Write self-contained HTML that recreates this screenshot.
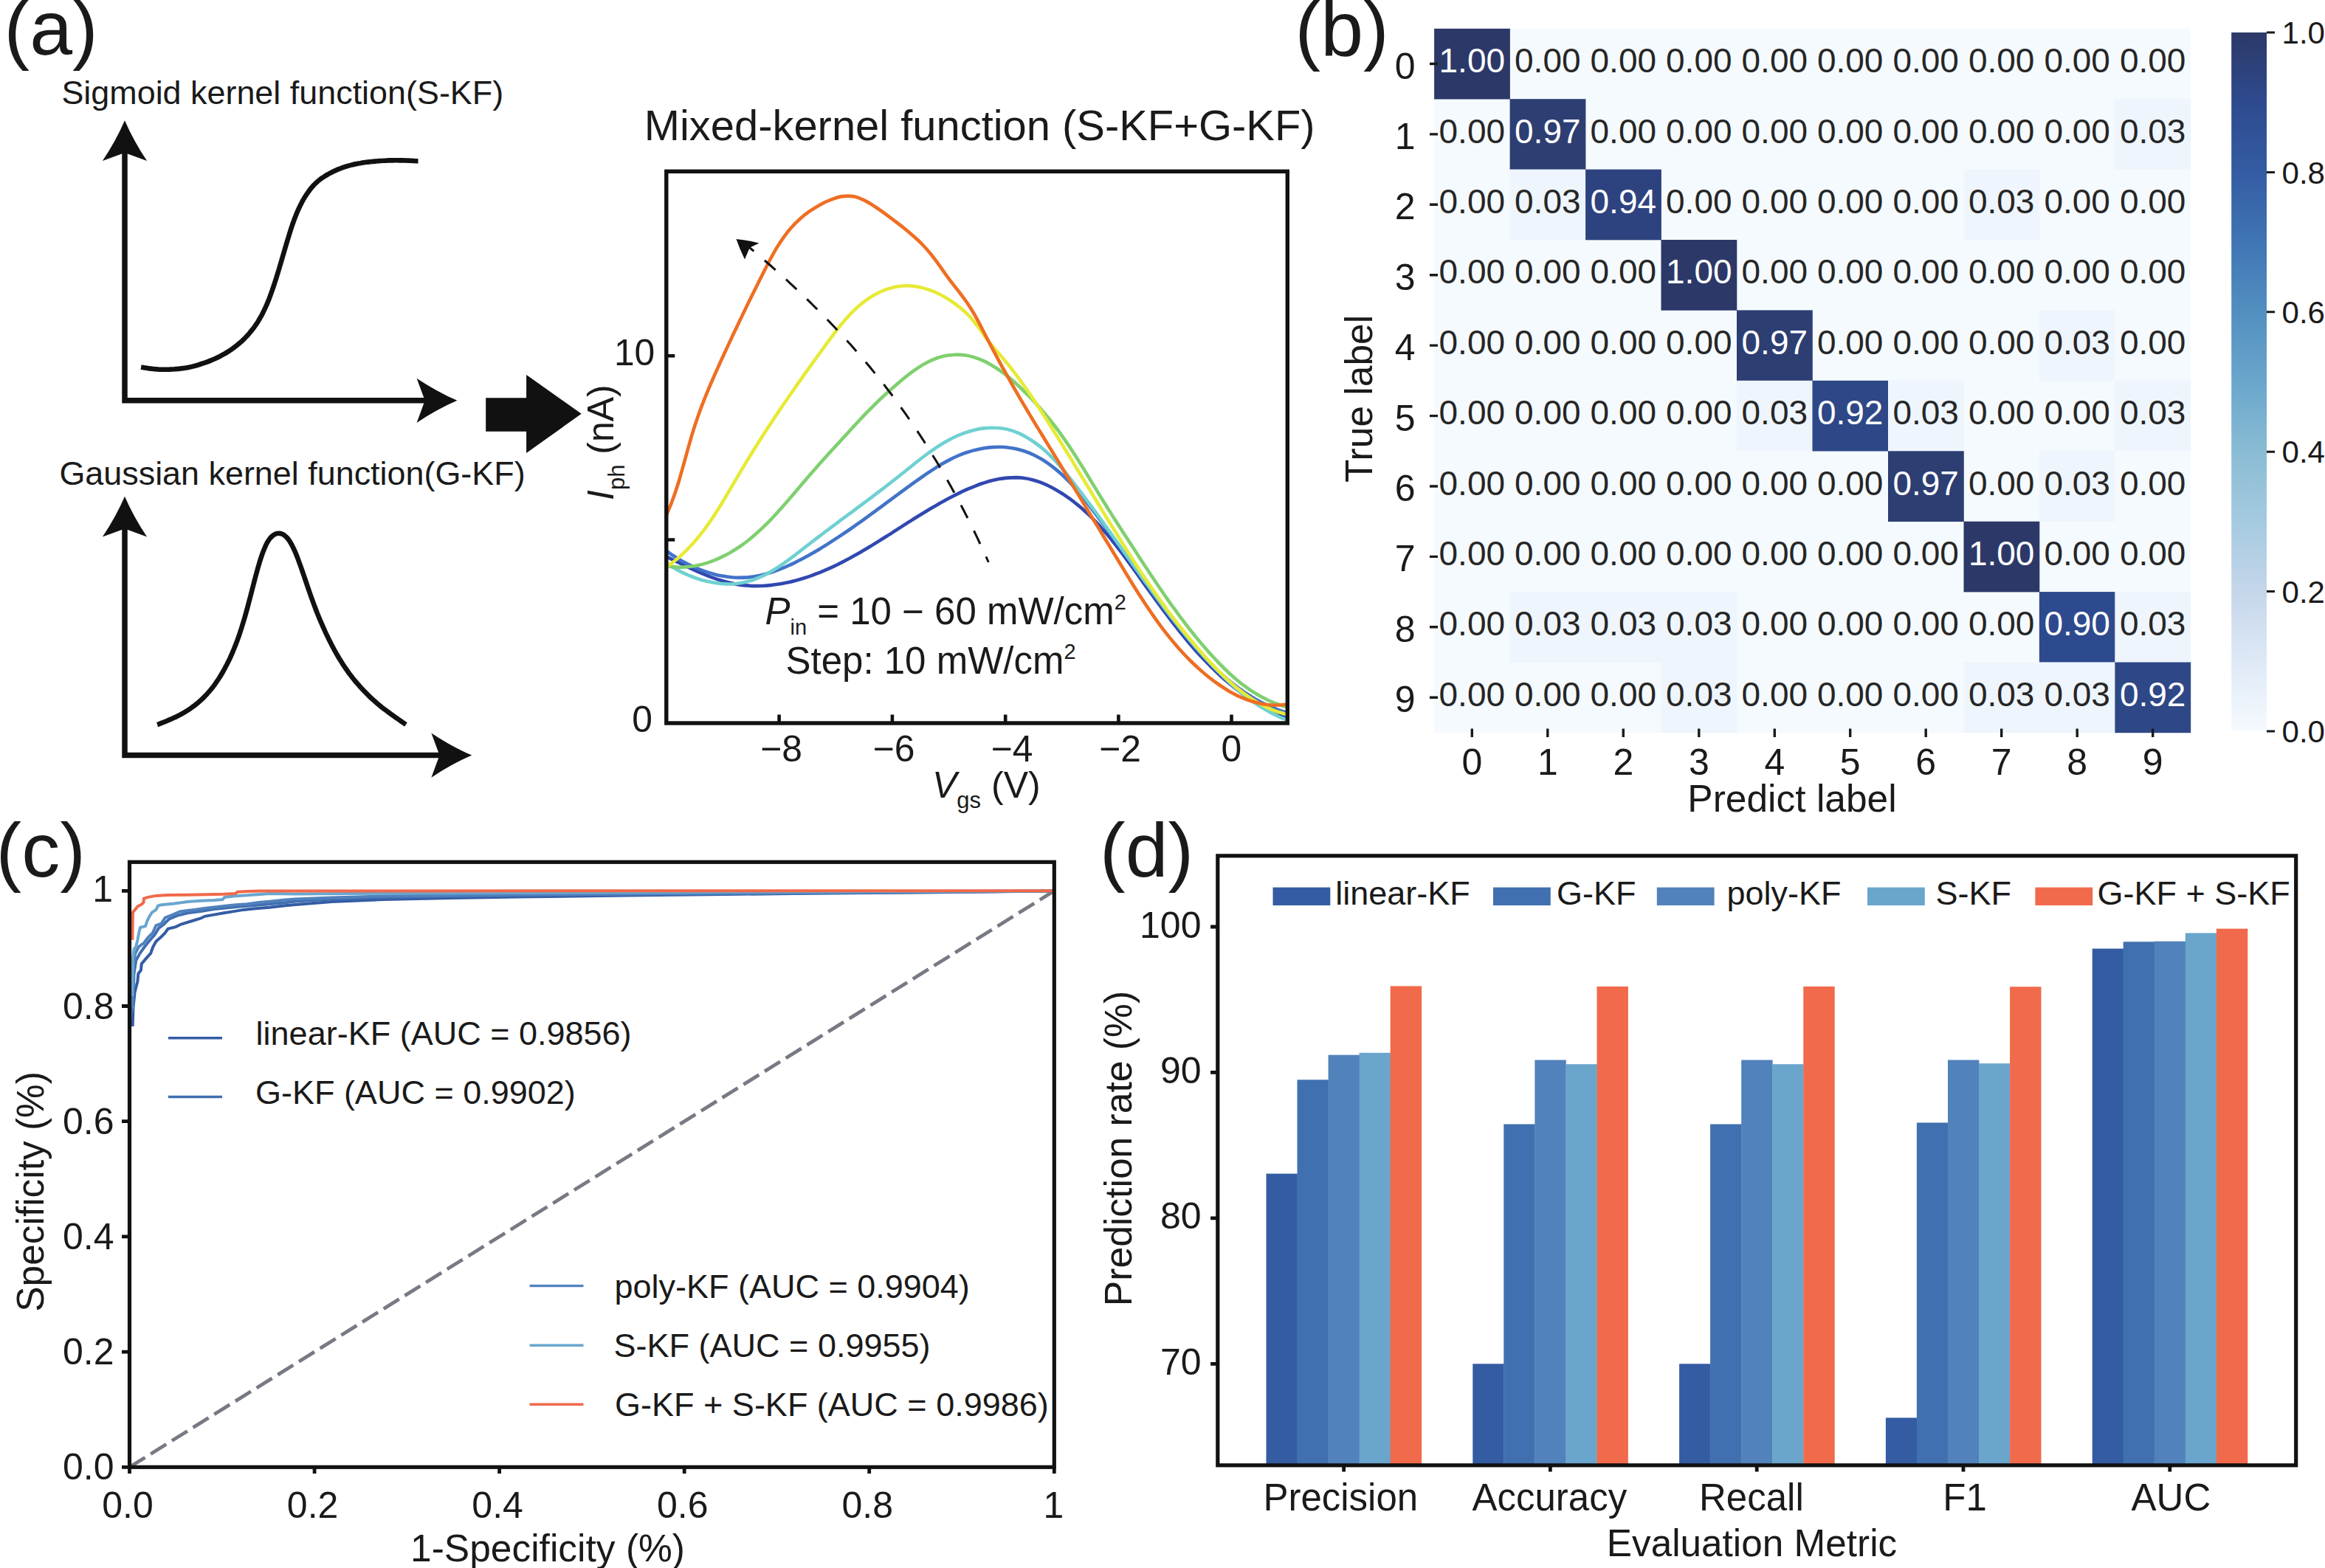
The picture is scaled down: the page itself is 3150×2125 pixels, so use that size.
<!DOCTYPE html>
<html lang="en">
<head>
<meta charset="utf-8">
<title>Figure</title>
<style>
html,body{margin:0;padding:0;background:#fff;}
body{width:3150px;height:2125px;overflow:hidden;}
svg{display:block;font-family:'Liberation Sans', sans-serif;}
text{white-space:pre;}
</style>
</head>
<body>
<svg width="3150" height="2125" viewBox="0 0 3150 2125">
<rect x="0" y="0" width="3150" height="2125" fill="#FFFFFF"/>
<g id="panel-a">
<text x="5.6" y="74" font-size="104" text-anchor="start" fill="#1a1a1a">(a)</text>
<text x="83.4" y="141" font-size="44.9" text-anchor="start" fill="#1a1a1a">Sigmoid kernel function(S-KF)</text>
<text x="80.4" y="656.5" font-size="44.9" text-anchor="start" fill="#1a1a1a">Gaussian kernel function(G-KF)</text>
<path d="M169,205 L169,542.8 L577,542.8" fill="none" stroke="#111" stroke-width="7.5" stroke-linejoin="miter"/>
<path d="M169,163.3 Q157.2,190.7 138.9,218.1 L169,207 L199.1,218.1 Q180.8,190.7 169,163.3 Z" fill="#111"/>
<path d="M619.4,542.8 Q592,530.9 564.6,512.7 L575.7,542.8 L564.6,572.9 Q592,554.6 619.4,542.8 Z" fill="#111"/>
<path d="M191.1,497.6 C191.7,497.7 193.6,498 194.9,498.2 C196.1,498.4 197.4,498.6 198.6,498.8 C199.9,499 201.2,499.2 202.4,499.4 C203.7,499.5 204.9,499.7 206.2,499.8 C207.4,500 208.7,500.1 210,500.2 C211.2,500.3 212.5,500.4 213.7,500.5 C215,500.6 216.3,500.7 217.5,500.7 C218.8,500.8 220,500.8 221.3,500.8 C222.5,500.8 223.8,500.8 225.1,500.8 C226.3,500.8 227.6,500.7 228.8,500.7 C230.1,500.6 231.3,500.6 232.6,500.5 C233.9,500.4 235.1,500.3 236.4,500.3 C237.6,500.2 238.9,500.1 240.1,500 C241.4,499.8 242.7,499.7 243.9,499.6 C245.2,499.4 246.4,499.3 247.7,499.1 C249,499 250.2,498.8 251.5,498.6 C252.7,498.4 254,498.1 255.2,497.9 C256.5,497.6 257.8,497.4 259,497.1 C260.3,496.8 261.5,496.5 262.8,496.1 C264,495.8 265.3,495.5 266.6,495.1 C267.8,494.7 269.1,494.3 270.3,494 C271.6,493.6 272.8,493.2 274.1,492.7 C275.4,492.3 276.6,491.9 277.9,491.5 C279.1,491 280.4,490.6 281.6,490.1 C282.9,489.6 284.2,489.1 285.4,488.6 C286.7,488.1 287.9,487.6 289.2,487 C290.5,486.5 291.7,485.9 293,485.3 C294.2,484.7 295.5,484.1 296.7,483.5 C298,482.8 299.3,482.2 300.5,481.5 C301.8,480.8 303,480.1 304.3,479.4 C305.5,478.7 306.8,477.9 308.1,477.1 C309.3,476.4 310.6,475.5 311.8,474.7 C313.1,473.9 314.3,473 315.6,472.1 C316.9,471.2 318.1,470.2 319.4,469.2 C320.6,468.3 321.9,467.2 323.2,466.2 C324.4,465.1 325.7,464 326.9,462.9 C328.2,461.8 329.4,460.6 330.7,459.3 C332,458.1 333.2,456.8 334.5,455.5 C335.7,454.1 337,452.7 338.2,451.2 C339.5,449.7 340.8,448.2 342,446.6 C343.3,444.9 344.5,443.2 345.8,441.4 C347,439.6 348.3,437.7 349.6,435.7 C350.8,433.7 352.1,431.6 353.3,429.3 C354.6,427 355.8,424.6 357.1,422.1 C358.4,419.5 359.6,416.8 360.9,413.9 C362.1,411 363.4,407.9 364.7,404.7 C365.9,401.4 367.2,398 368.4,394.5 C369.7,390.9 370.9,387.2 372.2,383.3 C373.5,379.5 374.7,375.4 376,371.3 C377.2,367.3 378.5,363 379.7,358.8 C381,354.6 382.3,350.2 383.5,345.9 C384.8,341.6 386,337.2 387.3,333 C388.5,328.7 389.8,324.4 391.1,320.4 C392.3,316.3 393.6,312.3 394.8,308.5 C396.1,304.7 397.3,301.1 398.6,297.7 C399.9,294.3 401.1,291.1 402.4,288.1 C403.6,285.1 404.9,282.3 406.2,279.7 C407.4,277.1 408.7,274.7 409.9,272.4 C411.2,270.1 412.4,268 413.7,266 C415,264 416.2,262.2 417.5,260.4 C418.7,258.6 420,256.9 421.2,255.4 C422.5,253.8 423.8,252.4 425,251 C426.3,249.7 427.5,248.4 428.8,247.3 C430,246.1 431.3,245 432.6,244 C433.8,243 435.1,242.1 436.3,241.2 C437.6,240.3 438.9,239.5 440.1,238.7 C441.4,237.9 442.6,237.2 443.9,236.5 C445.1,235.8 446.4,235.1 447.7,234.4 C448.9,233.8 450.2,233.1 451.4,232.5 C452.7,231.9 453.9,231.3 455.2,230.8 C456.5,230.2 457.7,229.7 459,229.2 C460.2,228.6 461.5,228.2 462.7,227.7 C464,227.2 465.3,226.8 466.5,226.3 C467.8,225.9 469,225.5 470.3,225.2 C471.5,224.8 472.8,224.4 474.1,224.1 C475.3,223.8 476.6,223.5 477.8,223.2 C479.1,222.9 480.4,222.6 481.6,222.3 C482.9,222.1 484.1,221.8 485.4,221.6 C486.6,221.3 487.9,221.1 489.2,220.9 C490.4,220.7 491.7,220.5 492.9,220.3 C494.2,220.1 495.4,220 496.7,219.8 C498,219.6 499.2,219.5 500.5,219.4 C501.7,219.2 503,219.1 504.2,219 C505.5,218.8 506.8,218.7 508,218.6 C509.3,218.5 510.5,218.4 511.8,218.3 C513.1,218.2 514.3,218.1 515.6,218 C516.8,217.9 518.1,217.8 519.3,217.8 C520.6,217.7 521.9,217.6 523.1,217.6 C524.4,217.5 525.6,217.5 526.9,217.4 C528.1,217.4 529.4,217.4 530.7,217.4 C531.9,217.4 533.2,217.3 534.4,217.3 C535.7,217.3 536.9,217.3 538.2,217.3 C539.5,217.4 540.7,217.4 542,217.4 C543.2,217.4 544.5,217.4 545.7,217.4 C547,217.5 548.3,217.5 549.5,217.5 C550.8,217.6 552,217.6 553.3,217.6 C554.6,217.7 555.8,217.7 557.1,217.8 C558.3,217.9 559.6,217.9 560.8,218 C562.1,218 563.7,218.1 564.6,218.2 C565.6,218.2 566.2,218.3 566.5,218.3" fill="none" stroke="#111" stroke-width="6.6" stroke-linecap="butt"/>
<path d="M169,714 L169,1023.6 L597,1023.6" fill="none" stroke="#111" stroke-width="7.5" stroke-linejoin="miter"/>
<path d="M169,672.8 Q157.2,700.2 138.9,727.6 L169,716.5 L199.1,727.6 Q180.8,700.2 169,672.8 Z" fill="#111"/>
<path d="M639.2,1023.6 Q611.8,1011.8 584.4,993.5 L595.5,1023.6 L584.4,1053.7 Q611.8,1035.5 639.2,1023.6 Z" fill="#111"/>
<path d="M213.1,982 C213.7,981.8 215.4,981.2 216.5,980.8 C217.6,980.3 218.7,979.9 219.9,979.5 C221,979.1 222.1,978.6 223.3,978.2 C224.4,977.7 225.5,977.3 226.6,976.8 C227.8,976.3 228.9,975.8 230,975.3 C231.2,974.9 232.3,974.3 233.4,973.8 C234.5,973.3 235.7,972.8 236.8,972.3 C237.9,971.7 239.1,971.2 240.2,970.6 C241.3,970 242.4,969.5 243.6,968.9 C244.7,968.3 245.8,967.7 246.9,967 C248.1,966.4 249.2,965.7 250.3,965.1 C251.5,964.4 252.6,963.7 253.7,963 C254.8,962.3 256,961.5 257.1,960.8 C258.2,960 259.4,959.2 260.5,958.4 C261.6,957.6 262.7,956.7 263.9,955.8 C265,955 266.1,954 267.3,953.1 C268.4,952.2 269.5,951.2 270.6,950.2 C271.8,949.2 272.9,948.2 274,947.1 C275.2,946 276.3,944.9 277.4,943.8 C278.5,942.6 279.7,941.4 280.8,940.2 C281.9,938.9 283.1,937.7 284.2,936.3 C285.3,935 286.4,933.6 287.6,932.2 C288.7,930.7 289.8,929.2 291,927.7 C292.1,926.1 293.2,924.5 294.3,922.8 C295.5,921.1 296.6,919.4 297.7,917.6 C298.9,915.8 300,913.9 301.1,912 C302.2,910 303.4,908 304.5,906 C305.6,903.9 306.7,901.7 307.9,899.5 C309,897.3 310.1,895 311.3,892.6 C312.4,890.2 313.5,887.7 314.6,885.1 C315.8,882.4 316.9,879.7 318,876.9 C319.2,874.1 320.3,871.1 321.4,868.1 C322.5,865 323.7,861.8 324.8,858.4 C325.9,855.1 327.1,851.6 328.2,847.9 C329.3,844.3 330.4,840.5 331.6,836.6 C332.7,832.7 333.8,828.7 335,824.5 C336.1,820.4 337.2,816.1 338.3,811.8 C339.5,807.5 340.6,803.1 341.7,798.7 C342.9,794.3 344,789.9 345.1,785.6 C346.2,781.3 347.4,777.1 348.5,773 C349.6,769 350.8,765 351.9,761.3 C353,757.6 354.1,754.1 355.3,751 C356.4,747.8 357.5,744.9 358.7,742.3 C359.8,739.7 360.9,737.4 362,735.3 C363.2,733.3 364.3,731.6 365.4,730.1 C366.5,728.6 367.7,727.5 368.8,726.5 C369.9,725.5 371.1,724.7 372.2,724.2 C373.3,723.6 374.4,723.2 375.6,723 C376.7,722.8 377.8,722.7 379,722.9 C380.1,723 381.2,723.3 382.3,723.8 C383.5,724.3 384.6,724.9 385.7,725.8 C386.9,726.7 388,727.7 389.1,729 C390.2,730.3 391.4,731.8 392.5,733.5 C393.6,735.3 394.8,737.2 395.9,739.4 C397,741.6 398.1,744 399.3,746.6 C400.4,749.1 401.5,751.9 402.7,754.8 C403.8,757.7 404.9,760.7 406,763.9 C407.2,767 408.3,770.2 409.4,773.5 C410.6,776.7 411.7,780.1 412.8,783.4 C413.9,786.7 415.1,790.1 416.2,793.4 C417.3,796.7 418.5,800 419.6,803.3 C420.7,806.5 421.8,809.7 423,812.8 C424.1,816 425.2,819 426.4,822 C427.5,825 428.6,827.9 429.7,830.7 C430.9,833.5 432,836.3 433.1,839 C434.2,841.7 435.4,844.3 436.5,846.9 C437.6,849.5 438.8,852 439.9,854.5 C441,857 442.1,859.4 443.3,861.8 C444.4,864.1 445.5,866.5 446.7,868.7 C447.8,871 448.9,873.2 450,875.3 C451.2,877.5 452.3,879.6 453.4,881.6 C454.6,883.6 455.7,885.6 456.8,887.6 C457.9,889.5 459.1,891.4 460.2,893.3 C461.3,895.1 462.5,896.9 463.6,898.7 C464.7,900.5 465.8,902.2 467,903.9 C468.1,905.6 469.2,907.2 470.4,908.8 C471.5,910.4 472.6,912 473.7,913.5 C474.9,915 476,916.5 477.1,917.9 C478.3,919.4 479.4,920.8 480.5,922.1 C481.6,923.5 482.8,924.8 483.9,926.1 C485,927.4 486.2,928.7 487.3,930 C488.4,931.2 489.5,932.4 490.7,933.7 C491.8,934.9 492.9,936.1 494,937.2 C495.2,938.4 496.3,939.6 497.4,940.7 C498.6,941.9 499.7,943 500.8,944.1 C501.9,945.2 503.1,946.2 504.2,947.3 C505.3,948.3 506.5,949.3 507.6,950.3 C508.7,951.3 509.8,952.3 511,953.3 C512.1,954.2 513.2,955.2 514.4,956.1 C515.5,957 516.6,957.9 517.7,958.8 C518.9,959.7 520,960.5 521.1,961.4 C522.3,962.3 523.4,963.1 524.5,963.9 C525.6,964.8 526.8,965.6 527.9,966.4 C529,967.3 530.2,968.1 531.3,968.9 C532.4,969.7 533.5,970.5 534.7,971.3 C535.8,972.1 536.9,972.9 538.1,973.7 C539.2,974.5 540.3,975.3 541.4,976.1 C542.6,976.9 543.7,977.7 544.8,978.5 C546,979.2 547.4,980.2 548.2,980.8 C549.1,981.4 549.6,981.8 549.9,982" fill="none" stroke="#111" stroke-width="6.6"/>
<path d="M658.2,539.2 L713.1,539.2 L713.1,507.9 L787.7,560.7 L713.1,614.1 L713.1,584.8 L658.2,584.8 Z" fill="#111"/>
</g>
<g id="panel-a2">
<text x="1327.2" y="190" font-size="57.9" text-anchor="middle" fill="#1a1a1a">Mixed-kernel function (S-KF+G-KF)</text>
<clipPath id="clipA"><rect x="902.8" y="232.3" width="841.5" height="747.7"/></clipPath>
<g clip-path="url(#clipA)" fill="none" stroke-width="4.6" stroke-linejoin="round">
<path d="M902.8,754.3 C904.5,755.1 909.5,757.6 912.8,759.2 C916.2,760.9 919.6,762.6 923.1,764.2 C926.5,765.9 929.9,767.6 933.4,769.2 C936.9,770.9 940.4,772.5 944,774.1 C947.5,775.6 951.1,777.2 954.7,778.6 C958.2,780.1 961.8,781.5 965.5,782.8 C969.1,784.1 972.8,785.4 976.4,786.5 C980.1,787.6 983.8,788.7 987.5,789.6 C991.2,790.5 995,791.3 998.7,791.9 C1002.4,792.6 1006.2,793.1 1010,793.4 C1013.8,793.8 1017.6,794 1021.4,794.1 C1025.2,794.2 1029,794.1 1032.8,794 C1036.6,793.8 1040.4,793.5 1044.2,793.1 C1048,792.7 1051.8,792.2 1055.6,791.6 C1059.4,791 1063.1,790.2 1066.9,789.4 C1070.6,788.6 1074.4,787.7 1078.1,786.7 C1081.8,785.8 1085.5,784.7 1089.1,783.5 C1092.8,782.4 1096.4,781.2 1100,779.9 C1103.6,778.6 1107.1,777.2 1110.7,775.8 C1114.2,774.4 1117.7,772.9 1121.1,771.4 C1124.6,769.9 1128,768.3 1131.5,766.7 C1134.9,765 1138.3,763.3 1141.6,761.6 C1145,759.9 1148.4,758.1 1151.7,756.3 C1155,754.5 1158.3,752.7 1161.6,750.8 C1164.9,748.9 1168.2,747 1171.5,745 C1174.8,743.1 1178,741.1 1181.3,739.1 C1184.5,737.2 1187.8,735.1 1191,733.1 C1194.3,731.1 1197.5,729 1200.7,727 C1204,724.9 1207.2,722.9 1210.4,720.8 C1213.6,718.8 1216.9,716.7 1220.1,714.6 C1223.3,712.6 1226.6,710.5 1229.8,708.4 C1233,706.4 1236.3,704.3 1239.5,702.3 C1242.8,700.2 1246.1,698.2 1249.3,696.2 C1252.6,694.2 1255.9,692.2 1259.2,690.2 C1262.5,688.3 1265.8,686.3 1269.2,684.4 C1272.5,682.5 1275.9,680.6 1279.3,678.8 C1282.6,676.9 1286,675.1 1289.5,673.3 C1292.9,671.5 1296.3,669.8 1299.8,668.1 C1303.3,666.4 1306.8,664.8 1310.3,663.2 C1313.8,661.7 1317.4,660.2 1321,658.8 C1324.5,657.4 1328.2,656 1331.8,654.8 C1335.4,653.7 1339.1,652.5 1342.7,651.6 C1346.4,650.6 1350.1,649.8 1353.8,649.1 C1357.5,648.5 1361.3,647.9 1365,647.6 C1368.8,647.3 1372.6,647.1 1376.4,647.1 C1380.1,647.2 1383.9,647.4 1387.6,648 C1391.3,648.5 1395.1,649.3 1398.7,650.2 C1402.4,651.2 1406,652.4 1409.6,653.7 C1413.2,655.1 1416.7,656.6 1420.2,658.3 C1423.7,660 1427.1,661.8 1430.5,663.7 C1433.8,665.6 1437.1,667.7 1440.3,669.7 C1443.5,671.8 1446.6,674 1449.7,676.2 C1452.8,678.5 1455.8,680.8 1458.7,683.2 C1461.7,685.5 1464.5,688 1467.4,690.5 C1470.2,693 1473,695.6 1475.7,698.2 C1478.4,700.8 1481.1,703.5 1483.7,706.2 C1486.3,708.9 1488.9,711.7 1491.4,714.5 C1493.9,717.3 1496.4,720.1 1498.9,723 C1501.4,725.9 1503.8,728.9 1506.2,731.8 C1508.6,734.8 1510.9,737.8 1513.3,740.8 C1515.6,743.8 1518,746.9 1520.3,749.9 C1522.6,753 1524.9,756.1 1527.1,759.2 C1529.4,762.3 1531.7,765.4 1533.9,768.5 C1536.2,771.6 1538.4,774.8 1540.7,777.9 C1542.9,781 1545.2,784.2 1547.4,787.3 C1549.7,790.5 1551.9,793.6 1554.2,796.8 C1556.5,799.9 1558.7,803 1561,806.2 C1563.2,809.3 1565.5,812.4 1567.8,815.6 C1570.1,818.7 1572.3,821.8 1574.6,824.9 C1576.9,828 1579.2,831.1 1581.6,834.2 C1583.9,837.2 1586.2,840.3 1588.5,843.4 C1590.9,846.4 1593.3,849.4 1595.6,852.4 C1598,855.5 1600.4,858.4 1602.8,861.4 C1605.3,864.4 1607.7,867.3 1610.1,870.2 C1612.6,873.1 1615.1,876 1617.6,878.9 C1620.1,881.8 1622.6,884.6 1625.2,887.4 C1627.8,890.2 1630.3,893 1633,895.7 C1635.6,898.4 1638.2,901.1 1640.9,903.8 C1643.6,906.4 1646.3,909.1 1649.1,911.7 C1651.8,914.2 1654.6,916.8 1657.4,919.3 C1660.2,921.8 1663.1,924.2 1666,926.6 C1668.9,929 1671.8,931.4 1674.8,933.7 C1677.8,936 1680.8,938.2 1683.8,940.4 C1686.9,942.6 1690,944.8 1693.2,946.9 C1696.3,949 1699.5,951 1702.8,953 C1706,955 1709.3,956.9 1712.7,958.8 C1716,960.6 1719.4,962.4 1722.9,964.1 C1726.3,965.9 1729.9,967.5 1733.4,969.1 C1737,970.7 1742.5,972.9 1744.3,973.7" stroke="#3148B0"/>
<path d="M902.8,746.7 C904.4,747.8 909.1,751.1 912.4,753.2 C915.7,755.3 919.1,757.4 922.5,759.4 C926,761.3 929.5,763.2 933.1,765 C936.7,766.8 940.4,768.5 944.1,770 C947.8,771.6 951.6,773 955.4,774.4 C959.2,775.7 963,776.9 966.9,777.9 C970.7,778.9 974.6,779.9 978.5,780.6 C982.4,781.3 986.3,781.9 990.2,782.3 C994.1,782.7 998,782.9 1001.9,782.9 C1005.8,782.9 1009.6,782.7 1013.5,782.4 C1017.3,782 1021.1,781.5 1024.9,780.8 C1028.7,780.1 1032.5,779.2 1036.3,778.2 C1040,777.2 1043.7,776.1 1047.5,774.8 C1051.2,773.6 1054.9,772.2 1058.5,770.7 C1062.2,769.3 1065.8,767.7 1069.4,766 C1073.1,764.4 1076.6,762.6 1080.2,760.8 C1083.8,759 1087.3,757.2 1090.8,755.2 C1094.3,753.3 1097.8,751.4 1101.2,749.4 C1104.7,747.4 1108.1,745.4 1111.5,743.4 C1114.9,741.3 1118.3,739.2 1121.6,737.1 C1125,735 1128.3,732.9 1131.6,730.7 C1134.9,728.5 1138.2,726.4 1141.5,724.2 C1144.8,721.9 1148,719.7 1151.3,717.5 C1154.5,715.2 1157.7,713 1160.9,710.7 C1164.2,708.4 1167.4,706.1 1170.6,703.8 C1173.8,701.5 1176.9,699.2 1180.1,696.9 C1183.3,694.6 1186.5,692.2 1189.6,689.9 C1192.8,687.6 1196,685.2 1199.1,682.9 C1202.3,680.6 1205.4,678.2 1208.6,675.9 C1211.8,673.5 1214.9,671.2 1218.1,668.9 C1221.3,666.6 1224.4,664.2 1227.6,661.9 C1230.8,659.6 1234,657.3 1237.2,654.9 C1240.5,652.6 1243.7,650.3 1247,648 C1250.2,645.7 1253.5,643.4 1256.8,641.2 C1260.1,639 1263.4,636.7 1266.8,634.6 C1270.2,632.4 1273.6,630.3 1277,628.3 C1280.5,626.3 1284,624.4 1287.5,622.6 C1291,620.8 1294.6,619.1 1298.3,617.5 C1301.9,616 1305.7,614.5 1309.4,613.3 C1313.2,612 1317,610.9 1320.8,609.9 C1324.6,609 1328.5,608.2 1332.3,607.5 C1336.2,606.9 1340.1,606.4 1344,606.1 C1347.9,605.9 1351.8,605.7 1355.6,605.8 C1359.5,605.9 1363.4,606.2 1367.2,606.7 C1371,607.1 1374.8,607.8 1378.5,608.7 C1382.3,609.6 1386,610.7 1389.6,612 C1393.3,613.3 1396.9,614.8 1400.4,616.5 C1403.9,618.2 1407.4,620.1 1410.8,622.1 C1414.2,624.1 1417.5,626.3 1420.8,628.6 C1424,630.9 1427.2,633.4 1430.3,635.9 C1433.4,638.4 1436.4,641.1 1439.4,643.8 C1442.3,646.5 1445.1,649.3 1447.9,652.2 C1450.7,655 1453.4,658 1456.1,661 C1458.7,663.9 1461.3,667 1463.8,670 C1466.4,673.1 1468.9,676.2 1471.3,679.3 C1473.8,682.5 1476.2,685.6 1478.6,688.8 C1481,692 1483.4,695.2 1485.8,698.3 C1488.2,701.5 1490.5,704.7 1492.9,707.9 C1495.2,711.1 1497.6,714.2 1499.9,717.4 C1502.3,720.6 1504.6,723.7 1506.9,726.9 C1509.3,730 1511.6,733.2 1513.9,736.4 C1516.2,739.5 1518.5,742.7 1520.9,745.9 C1523.2,749 1525.5,752.2 1527.8,755.4 C1530.1,758.5 1532.4,761.7 1534.7,764.9 C1537,768.1 1539.3,771.3 1541.6,774.5 C1543.9,777.7 1546.1,780.9 1548.4,784.1 C1550.7,787.3 1553,790.5 1555.3,793.7 C1557.6,796.9 1559.9,800.1 1562.2,803.3 C1564.5,806.5 1566.8,809.8 1569.1,813 C1571.5,816.2 1573.8,819.4 1576.1,822.5 C1578.5,825.7 1580.8,828.9 1583.2,832.1 C1585.6,835.2 1588,838.4 1590.4,841.5 C1592.8,844.6 1595.2,847.8 1597.7,850.9 C1600.1,854 1602.6,857.1 1605.1,860.1 C1607.6,863.2 1610.1,866.2 1612.7,869.2 C1615.2,872.2 1617.8,875.2 1620.4,878.2 C1623,881.2 1625.7,884.1 1628.4,887 C1631.1,889.9 1633.8,892.8 1636.5,895.6 C1639.3,898.4 1642.1,901.2 1644.9,904 C1647.7,906.7 1650.6,909.5 1653.5,912.1 C1656.5,914.8 1659.4,917.4 1662.4,920 C1665.4,922.6 1668.5,925.1 1671.6,927.5 C1674.7,930 1677.8,932.3 1681,934.6 C1684.2,936.9 1687.5,939.2 1690.8,941.3 C1694.1,943.4 1697.4,945.5 1700.8,947.5 C1704.2,949.4 1707.7,951.3 1711.2,953.1 C1714.7,954.8 1718.2,956.5 1721.9,958.1 C1725.5,959.6 1729.2,961.1 1732.9,962.4 C1736.6,963.7 1742.4,965.4 1744.3,966" stroke="#4273C9"/>
<path d="M902.8,763.2 C904.5,764.3 909.3,767.6 912.8,769.6 C916.2,771.6 919.8,773.6 923.5,775.4 C927.2,777.2 931,778.9 934.8,780.5 C938.7,782 942.7,783.5 946.6,784.7 C950.6,786 954.7,787.1 958.8,788.1 C962.8,789 966.9,789.8 971,790.3 C975.1,790.9 979.2,791.3 983.3,791.4 C987.4,791.5 991.4,791.5 995.4,791.2 C999.4,790.9 1003.3,790.3 1007.2,789.5 C1011.1,788.8 1014.9,787.7 1018.6,786.5 C1022.4,785.3 1026,783.8 1029.7,782.2 C1033.3,780.6 1036.9,778.8 1040.4,776.9 C1044,775 1047.5,772.9 1050.9,770.8 C1054.4,768.6 1057.8,766.3 1061.2,763.9 C1064.6,761.6 1068,759.1 1071.3,756.6 C1074.7,754.1 1078,751.6 1081.3,749 C1084.6,746.5 1087.9,743.9 1091.2,741.3 C1094.5,738.8 1097.8,736.2 1101,733.7 C1104.3,731.2 1107.6,728.7 1110.9,726.2 C1114.1,723.7 1117.4,721.3 1120.6,718.8 C1123.9,716.4 1127.1,713.9 1130.4,711.5 C1133.6,709.1 1136.9,706.6 1140.1,704.2 C1143.4,701.8 1146.6,699.4 1149.8,697 C1153.1,694.6 1156.3,692.2 1159.5,689.8 C1162.8,687.4 1166,685 1169.2,682.6 C1172.4,680.2 1175.7,677.8 1178.9,675.4 C1182.1,672.9 1185.3,670.5 1188.5,668.1 C1191.8,665.6 1195,663.2 1198.2,660.7 C1201.4,658.2 1204.6,655.8 1207.8,653.2 C1211.1,650.7 1214.3,648.2 1217.5,645.7 C1220.7,643.1 1223.9,640.5 1227.1,638 C1230.4,635.4 1233.6,632.8 1236.8,630.2 C1240.1,627.6 1243.3,625 1246.6,622.5 C1249.9,619.9 1253.2,617.4 1256.5,615 C1259.8,612.5 1263.2,610.1 1266.6,607.8 C1270,605.5 1273.4,603.3 1276.9,601.2 C1280.4,599.1 1283.9,597.1 1287.5,595.2 C1291.1,593.3 1294.7,591.6 1298.4,590 C1302.1,588.4 1305.9,586.9 1309.7,585.7 C1313.5,584.4 1317.4,583.3 1321.4,582.4 C1325.3,581.6 1329.4,580.9 1333.4,580.4 C1337.4,580 1341.5,579.7 1345.5,579.8 C1349.5,579.8 1353.6,580 1357.6,580.6 C1361.5,581.2 1365.5,582 1369.4,583.1 C1373.3,584.3 1377.1,585.8 1380.9,587.4 C1384.6,589.1 1388.3,591.1 1391.9,593.2 C1395.4,595.3 1398.9,597.6 1402.3,600 C1405.7,602.4 1408.9,604.9 1412.1,607.6 C1415.2,610.2 1418.3,613 1421.2,615.8 C1424.1,618.6 1426.9,621.5 1429.7,624.5 C1432.4,627.5 1435.1,630.5 1437.7,633.6 C1440.4,636.7 1442.9,639.8 1445.5,643 C1448,646.2 1450.5,649.3 1453,652.5 C1455.5,655.7 1458,658.9 1460.5,662.2 C1463,665.4 1465.4,668.6 1467.9,671.9 C1470.3,675.1 1472.8,678.4 1475.2,681.7 C1477.6,684.9 1480.1,688.2 1482.5,691.5 C1484.9,694.8 1487.3,698.1 1489.7,701.4 C1492.1,704.7 1494.5,708 1496.8,711.4 C1499.2,714.7 1501.6,718 1504,721.3 C1506.3,724.6 1508.7,728 1511,731.3 C1513.4,734.6 1515.8,738 1518.1,741.3 C1520.5,744.7 1522.8,748 1525.2,751.3 C1527.5,754.7 1529.9,758 1532.2,761.3 C1534.6,764.7 1536.9,768 1539.3,771.3 C1541.6,774.7 1544,778 1546.4,781.3 C1548.7,784.6 1551.1,787.9 1553.5,791.2 C1555.9,794.5 1558.3,797.9 1560.7,801.1 C1563.1,804.4 1565.5,807.7 1567.9,811 C1570.3,814.3 1572.7,817.6 1575.2,820.8 C1577.6,824.1 1580.1,827.3 1582.5,830.5 C1585,833.8 1587.5,837 1590,840.2 C1592.5,843.4 1595,846.6 1597.6,849.8 C1600.1,853 1602.7,856.2 1605.3,859.3 C1607.8,862.5 1610.4,865.6 1613.1,868.7 C1615.7,871.8 1618.3,874.9 1621,878 C1623.7,881.1 1626.4,884.1 1629.1,887.2 C1631.8,890.2 1634.6,893.2 1637.3,896.2 C1640.1,899.2 1642.9,902.2 1645.8,905.2 C1648.6,908.1 1651.5,911 1654.4,913.9 C1657.3,916.8 1660.2,919.7 1663.2,922.5 C1666.2,925.3 1669.2,928 1672.2,930.7 C1675.3,933.4 1678.4,936.1 1681.6,938.7 C1684.7,941.2 1687.9,943.7 1691.2,946.2 C1694.4,948.6 1697.7,951 1701.1,953.3 C1704.4,955.6 1707.8,957.8 1711.3,959.9 C1714.8,962 1718.3,964 1721.9,965.9 C1725.5,967.8 1729.2,969.6 1732.9,971.3 C1736.6,973 1742.4,975.2 1744.3,976" stroke="#6FD0D1"/>
<path d="M902.8,767 C905,767.3 911.8,768.3 916.3,768.5 C920.7,768.8 925.1,768.7 929.5,768.4 C933.9,768.1 938.3,767.5 942.6,766.7 C946.9,765.9 951.2,764.9 955.4,763.6 C959.6,762.4 963.7,761 967.8,759.3 C971.9,757.7 975.9,755.9 979.8,753.9 C983.8,752 987.7,749.9 991.4,747.6 C995.2,745.4 998.9,743 1002.6,740.5 C1006.2,738 1009.7,735.4 1013.2,732.7 C1016.6,730 1020,727.2 1023.3,724.3 C1026.6,721.4 1029.8,718.5 1033,715.4 C1036.2,712.4 1039.3,709.3 1042.4,706.1 C1045.5,703 1048.5,699.8 1051.5,696.5 C1054.5,693.3 1057.5,690 1060.4,686.6 C1063.3,683.3 1066.2,680 1069.1,676.6 C1072,673.2 1074.9,669.8 1077.8,666.4 C1080.6,663.1 1083.5,659.6 1086.4,656.3 C1089.2,652.9 1092.1,649.5 1095,646.2 C1097.9,642.8 1100.8,639.5 1103.7,636.2 C1106.6,632.9 1109.6,629.6 1112.5,626.3 C1115.4,623 1118.4,619.8 1121.3,616.5 C1124.3,613.3 1127.2,610 1130.2,606.8 C1133.2,603.5 1136.1,600.3 1139.1,597.1 C1142.1,593.8 1145,590.6 1148,587.4 C1150.9,584.1 1153.9,580.9 1156.9,577.6 C1159.8,574.4 1162.8,571.2 1165.8,568 C1168.8,564.8 1171.8,561.6 1174.9,558.5 C1178,555.4 1181,552.2 1184.2,549.2 C1187.3,546.1 1190.4,543 1193.6,540 C1196.8,537 1200.1,534 1203.4,531 C1206.7,528 1210,525.1 1213.4,522.2 C1216.8,519.3 1220.2,516.3 1223.7,513.5 C1227.2,510.7 1230.7,507.8 1234.3,505.1 C1238,502.4 1241.6,499.8 1245.4,497.4 C1249.2,495 1253,492.7 1256.9,490.7 C1260.8,488.8 1264.8,487 1268.9,485.5 C1273,484.1 1277.2,482.9 1281.4,482.1 C1285.6,481.3 1289.9,480.8 1294.1,480.7 C1298.4,480.6 1302.7,480.8 1306.9,481.3 C1311.1,481.9 1315.3,482.9 1319.5,484.1 C1323.6,485.3 1327.7,486.9 1331.7,488.7 C1335.8,490.5 1339.7,492.6 1343.6,494.9 C1347.5,497.1 1351.3,499.7 1355,502.3 C1358.7,504.9 1362.3,507.6 1365.8,510.5 C1369.3,513.3 1372.6,516.3 1376,519.3 C1379.3,522.3 1382.5,525.4 1385.7,528.5 C1388.9,531.6 1392,534.8 1395.1,538 C1398.1,541.2 1401.2,544.4 1404.1,547.6 C1407.1,550.9 1410,554.1 1412.9,557.4 C1415.7,560.8 1418.5,564.1 1421.3,567.5 C1424,570.9 1426.8,574.3 1429.4,577.8 C1432.1,581.2 1434.7,584.7 1437.2,588.3 C1439.8,591.8 1442.3,595.4 1444.8,599.1 C1447.3,602.7 1449.7,606.3 1452.1,610 C1454.5,613.7 1456.9,617.4 1459.3,621.2 C1461.6,624.9 1464,628.6 1466.3,632.4 C1468.6,636.2 1470.9,640 1473.2,643.7 C1475.5,647.5 1477.8,651.3 1480.1,655.1 C1482.4,658.9 1484.7,662.7 1487,666.4 C1489.3,670.2 1491.6,674 1493.9,677.7 C1496.3,681.5 1498.6,685.2 1500.9,689 C1503.3,692.7 1505.6,696.4 1508,700.2 C1510.4,703.9 1512.7,707.6 1515.1,711.3 C1517.5,715 1519.9,718.7 1522.3,722.4 C1524.7,726.1 1527.1,729.8 1529.5,733.5 C1531.9,737.2 1534.3,740.9 1536.7,744.6 C1539.1,748.3 1541.5,752 1543.9,755.7 C1546.3,759.4 1548.7,763 1551.1,766.7 C1553.5,770.4 1556,774.1 1558.4,777.8 C1560.8,781.4 1563.3,785.1 1565.7,788.7 C1568.2,792.4 1570.7,796 1573.2,799.7 C1575.6,803.3 1578.1,806.9 1580.7,810.6 C1583.2,814.2 1585.7,817.8 1588.3,821.3 C1590.9,824.9 1593.4,828.5 1596.1,832 C1598.7,835.6 1601.3,839.1 1604,842.6 C1606.6,846.1 1609.3,849.6 1612.1,853.1 C1614.8,856.5 1617.5,860 1620.3,863.4 C1623.1,866.8 1626,870.2 1628.8,873.6 C1631.7,876.9 1634.6,880.3 1637.6,883.6 C1640.5,886.9 1643.5,890.1 1646.5,893.4 C1649.6,896.6 1652.6,899.8 1655.8,903 C1658.9,906.1 1662.1,909.2 1665.3,912.2 C1668.6,915.2 1671.9,918.1 1675.2,921 C1678.6,923.8 1682,926.6 1685.6,929.2 C1689.1,931.8 1692.6,934.4 1696.3,936.8 C1700,939.2 1703.7,941.4 1707.5,943.6 C1711.3,945.7 1715.2,947.7 1719.2,949.5 C1723.2,951.3 1727.3,953 1731.5,954.5 C1735.6,956 1742.2,957.7 1744.3,958.4" stroke="#7FD06F"/>
<path d="M902.8,768.3 C904.8,766.8 910.9,762.6 914.8,759.5 C918.6,756.4 922.3,753.2 925.8,749.9 C929.4,746.5 932.8,743.1 936.1,739.5 C939.4,736 942.6,732.3 945.7,728.5 C948.8,724.8 951.8,720.9 954.7,717 C957.6,713.1 960.4,709.1 963.2,705.1 C966,701 968.7,696.9 971.3,692.7 C974,688.6 976.6,684.4 979.1,680.2 C981.7,675.9 984.2,671.7 986.7,667.4 C989.3,663.2 991.7,658.9 994.2,654.6 C996.7,650.3 999.2,646 1001.7,641.8 C1004.3,637.5 1006.8,633.3 1009.3,629.1 C1011.9,624.9 1014.4,620.7 1017,616.5 C1019.6,612.3 1022.2,608.2 1024.8,604 C1027.4,599.9 1030.1,595.7 1032.7,591.6 C1035.3,587.5 1038,583.4 1040.7,579.3 C1043.4,575.2 1046,571.1 1048.7,567 C1051.5,563 1054.2,558.9 1056.9,554.9 C1059.6,550.8 1062.4,546.8 1065.2,542.7 C1067.9,538.7 1070.7,534.7 1073.5,530.7 C1076.3,526.6 1079.1,522.6 1081.9,518.6 C1084.7,514.6 1087.6,510.6 1090.4,506.6 C1093.3,502.6 1096.1,498.6 1099,494.6 C1101.9,490.6 1104.8,486.6 1107.7,482.6 C1110.6,478.6 1113.5,474.6 1116.4,470.6 C1119.3,466.6 1122.2,462.6 1125.2,458.6 C1128.2,454.6 1131.1,450.6 1134.2,446.7 C1137.3,442.8 1140.3,438.9 1143.5,435.2 C1146.7,431.4 1150,427.8 1153.4,424.3 C1156.8,420.8 1160.3,417.4 1164,414.2 C1167.7,411.1 1171.5,408.1 1175.5,405.3 C1179.5,402.6 1183.7,400 1188.1,397.7 C1192.4,395.5 1197,393.5 1201.6,391.9 C1206.3,390.3 1211.1,389 1215.9,388.2 C1220.7,387.4 1225.6,387.1 1230.4,387.2 C1235.2,387.3 1240.1,388 1244.9,388.9 C1249.7,389.8 1254.5,391.2 1259.2,392.9 C1263.8,394.5 1268.5,396.6 1272.9,398.8 C1277.4,401 1281.8,403.6 1286,406.2 C1290.2,408.9 1294.3,411.8 1298.1,414.9 C1302,417.9 1305.7,421 1309.1,424.4 C1312.6,427.7 1315.8,431.2 1318.9,434.9 C1322,438.6 1324.7,442.5 1327.6,446.4 C1330.5,450.3 1333.2,454.4 1336.2,458.3 C1339.1,462.2 1342.2,466 1345.4,469.8 C1348.5,473.6 1351.8,477.2 1355,481 C1358.1,484.8 1361.4,488.5 1364.5,492.3 C1367.6,496.1 1370.6,500 1373.6,503.9 C1376.6,507.8 1379.5,511.8 1382.4,515.7 C1385.3,519.7 1388.1,523.7 1390.9,527.7 C1393.7,531.8 1396.5,535.8 1399.2,539.9 C1401.9,544 1404.6,548.1 1407.3,552.2 C1410,556.3 1412.6,560.4 1415.3,564.6 C1417.9,568.7 1420.6,572.8 1423.2,577 C1425.8,581.1 1428.4,585.3 1431,589.5 C1433.6,593.6 1436.2,597.8 1438.8,602 C1441.4,606.2 1443.9,610.3 1446.5,614.5 C1449.1,618.7 1451.6,622.9 1454.2,627.1 C1456.7,631.3 1459.3,635.5 1461.8,639.7 C1464.4,643.9 1466.9,648.1 1469.5,652.3 C1472,656.5 1474.5,660.7 1477.1,664.9 C1479.6,669.1 1482.2,673.3 1484.7,677.5 C1487.2,681.7 1489.8,685.9 1492.3,690.1 C1494.9,694.3 1497.4,698.5 1500,702.7 C1502.6,706.9 1505.1,711.1 1507.7,715.3 C1510.3,719.5 1512.9,723.7 1515.5,727.8 C1518.1,732 1520.7,736.2 1523.3,740.3 C1525.9,744.5 1528.5,748.7 1531.2,752.8 C1533.8,756.9 1536.5,761.1 1539.1,765.2 C1541.8,769.3 1544.5,773.4 1547.2,777.5 C1549.9,781.6 1552.7,785.7 1555.4,789.7 C1558.2,793.8 1561,797.9 1563.8,801.9 C1566.6,805.9 1569.4,809.9 1572.2,813.9 C1575.1,817.9 1578,821.9 1580.9,825.8 C1583.8,829.8 1586.7,833.7 1589.7,837.6 C1592.6,841.5 1595.6,845.4 1598.7,849.3 C1601.7,853.1 1604.8,857 1607.9,860.8 C1611,864.6 1614.1,868.4 1617.3,872.1 C1620.4,875.9 1623.7,879.6 1626.9,883.3 C1630.2,887 1633.4,890.7 1636.8,894.3 C1640.1,897.9 1643.5,901.5 1646.9,905.1 C1650.4,908.6 1653.8,912.1 1657.4,915.6 C1660.9,919 1664.5,922.4 1668.2,925.6 C1671.8,928.9 1675.6,932.1 1679.4,935.1 C1683.2,938.2 1687.1,941.1 1691.1,943.9 C1695.1,946.7 1699.2,949.3 1703.4,951.8 C1707.6,954.2 1711.9,956.5 1716.3,958.6 C1720.7,960.7 1725.3,962.6 1729.9,964.3 C1734.6,965.9 1741.9,967.9 1744.3,968.6" stroke="#E6EA35"/>
<path d="M902.8,698.2 C903.9,695.7 907.2,688.1 909.2,683 C911.2,677.9 913,672.8 914.8,667.6 C916.5,662.4 918.2,657.2 919.8,652 C921.3,646.7 922.8,641.5 924.3,636.2 C925.8,631 927.3,625.7 928.7,620.4 C930.2,615.2 931.6,609.9 933.1,604.6 C934.6,599.4 936.1,594.1 937.6,588.9 C939.2,583.7 940.8,578.4 942.6,573.2 C944.3,568 946.1,562.9 948,557.7 C949.8,552.6 951.8,547.5 953.8,542.4 C955.8,537.3 957.9,532.2 960,527.1 C962.1,522.1 964.3,517 966.5,512 C968.7,507 970.9,502 973.2,497 C975.4,492 977.7,487 980,482 C982.3,477 984.6,472.1 986.9,467.1 C989.2,462.2 991.5,457.2 993.8,452.3 C996.2,447.4 998.5,442.4 1000.9,437.5 C1003.2,432.6 1005.6,427.7 1008,422.8 C1010.3,417.8 1012.7,412.9 1015.1,408 C1017.5,403.1 1020,398.2 1022.4,393.3 C1024.8,388.4 1027.3,383.5 1029.7,378.6 C1032.2,373.7 1034.6,368.7 1037.1,363.9 C1039.7,359 1042.1,354 1044.8,349.2 C1047.4,344.4 1050,339.6 1052.9,334.9 C1055.8,330.2 1058.7,325.7 1061.9,321.3 C1065.1,316.9 1068.4,312.6 1072,308.5 C1075.6,304.5 1079.4,300.6 1083.5,297 C1087.5,293.3 1091.8,289.9 1096.3,286.7 C1100.8,283.5 1105.5,280.6 1110.4,277.9 C1115.3,275.2 1120.5,272.6 1125.7,270.7 C1130.8,268.7 1136.2,266.8 1141.4,266.1 C1146.6,265.4 1151.9,265.4 1156.9,266.3 C1162,267.3 1167,269.6 1171.8,271.9 C1176.7,274.3 1181.4,277.5 1186.1,280.5 C1190.7,283.5 1195.3,286.8 1199.8,290.1 C1204.3,293.4 1208.7,296.7 1213.1,300.1 C1217.5,303.4 1221.8,306.8 1226.1,310.2 C1230.3,313.7 1234.5,317.2 1238.5,320.8 C1242.6,324.4 1246.5,328.1 1250.3,332 C1254,335.9 1257.6,340 1261.1,344.2 C1264.5,348.4 1267.7,352.9 1271,357.3 C1274.2,361.8 1277.3,366.4 1280.5,370.8 C1283.7,375.3 1287,379.7 1290.4,384.1 C1293.7,388.5 1297.2,392.7 1300.5,397 C1303.8,401.4 1307.1,405.7 1310.2,410.2 C1313.3,414.7 1316.2,419.3 1318.9,424 C1321.7,428.7 1324.3,433.5 1326.9,438.4 C1329.4,443.2 1331.9,448.1 1334.4,453 C1336.9,457.8 1339.4,462.7 1342,467.6 C1344.5,472.4 1347.1,477.3 1349.7,482.1 C1352.3,486.9 1354.9,491.8 1357.5,496.6 C1360.2,501.4 1362.8,506.2 1365.5,510.9 C1368.2,515.7 1370.8,520.5 1373.6,525.2 C1376.3,530 1379,534.7 1381.7,539.4 C1384.5,544.1 1387.3,548.8 1390.1,553.5 C1392.8,558.2 1395.7,562.9 1398.5,567.6 C1401.3,572.3 1404.1,576.9 1407,581.6 C1409.8,586.2 1412.7,590.9 1415.5,595.5 C1418.4,600.2 1421.2,604.9 1424.1,609.5 C1427,614.2 1429.8,618.9 1432.7,623.5 C1435.5,628.2 1438.4,632.9 1441.2,637.6 C1444.1,642.3 1446.9,647 1449.8,651.7 C1452.6,656.4 1455.4,661.2 1458.3,665.9 C1461.1,670.6 1463.9,675.3 1466.7,679.9 C1469.6,684.6 1472.4,689.3 1475.2,694 C1478,698.6 1480.8,703.3 1483.6,707.9 C1486.5,712.6 1489.3,717.2 1492.1,721.9 C1494.9,726.5 1497.7,731.2 1500.6,735.8 C1503.4,740.5 1506.2,745.1 1509,749.8 C1511.9,754.5 1514.7,759.1 1517.5,763.8 C1520.4,768.5 1523.2,773.2 1526.1,777.9 C1529,782.6 1531.8,787.3 1534.7,792 C1537.6,796.6 1540.6,801.3 1543.5,805.9 C1546.5,810.6 1549.5,815.2 1552.5,819.8 C1555.6,824.4 1558.7,828.9 1561.8,833.4 C1564.9,837.9 1568.1,842.4 1571.4,846.8 C1574.6,851.2 1577.9,855.6 1581.3,859.9 C1584.7,864.1 1588.2,868.4 1591.7,872.5 C1595.2,876.7 1598.8,880.8 1602.5,884.8 C1606.2,888.8 1610,892.7 1613.9,896.5 C1617.8,900.3 1621.8,904 1625.8,907.6 C1629.9,911.3 1634.1,914.8 1638.4,918.2 C1642.7,921.6 1647.2,924.9 1651.7,928 C1656.2,931.1 1660.9,934.1 1665.6,936.9 C1670.4,939.6 1675.2,942.2 1680.2,944.4 C1685.2,946.7 1690.2,948.7 1695.4,950.3 C1700.6,951.9 1705.8,953.3 1711.2,954.2 C1716.5,955.1 1722,955.6 1727.5,955.7 C1733,955.7 1741.5,954.7 1744.3,954.5" stroke="#EE6E22"/>
</g>
<path d="M1015.7,335.7 C1016.9,336.7 1020.4,339.6 1022.7,341.6 C1025,343.6 1027.4,345.5 1029.7,347.5 C1032,349.5 1034.3,351.5 1036.6,353.5 C1038.9,355.5 1041.2,357.5 1043.5,359.5 C1045.8,361.5 1048.1,363.6 1050.4,365.6 C1052.7,367.6 1054.9,369.7 1057.2,371.7 C1059.5,373.7 1061.7,375.8 1064,377.9 C1066.2,379.9 1068.5,382 1070.7,384.1 C1073,386.1 1075.2,388.2 1077.4,390.3 C1079.7,392.4 1081.9,394.5 1084.1,396.6 C1086.3,398.7 1088.5,400.8 1090.7,403 C1092.9,405.1 1095.1,407.2 1097.3,409.4 C1099.4,411.5 1101.6,413.6 1103.8,415.8 C1106,417.9 1108.1,420.1 1110.3,422.3 C1112.4,424.5 1114.6,426.6 1116.7,428.8 C1118.8,431 1120.9,433.2 1123.1,435.4 C1125.2,437.6 1127.3,439.8 1129.4,442 C1131.5,444.3 1133.6,446.5 1135.7,448.7 C1137.7,450.9 1139.8,453.2 1141.9,455.4 C1143.9,457.7 1146,460 1148,462.2 C1150.1,464.5 1152.1,466.8 1154.1,469 C1156.2,471.3 1158.2,473.6 1160.2,475.9 C1162.2,478.2 1164.2,480.5 1166.2,482.8 C1168.2,485.2 1170.1,487.5 1172.1,489.8 C1174.1,492.2 1176,494.5 1178,496.8 C1179.9,499.2 1181.9,501.6 1183.8,503.9 C1185.7,506.3 1187.6,508.7 1189.5,511.1 C1191.4,513.4 1193.3,515.8 1195.2,518.2 C1197.1,520.6 1199,523 1200.8,525.5 C1202.7,527.9 1204.5,530.3 1206.4,532.7 C1208.2,535.2 1210,537.6 1211.9,540.1 C1213.7,542.5 1215.5,545 1217.3,547.4 C1219.1,549.9 1220.9,552.4 1222.6,554.9 C1224.4,557.4 1226.2,559.8 1227.9,562.3 C1229.7,564.8 1231.4,567.4 1233.1,569.9 C1234.8,572.4 1236.6,574.9 1238.3,577.4 C1240,580 1241.7,582.5 1243.4,585.1 C1245,587.6 1246.7,590.2 1248.4,592.7 C1250,595.3 1251.7,597.8 1253.3,600.4 C1255,603 1256.6,605.6 1258.2,608.2 C1259.8,610.8 1261.4,613.4 1263,616 C1264.6,618.6 1266.2,621.2 1267.8,623.8 C1269.4,626.4 1270.9,629 1272.5,631.7 C1274,634.3 1275.6,636.9 1277.1,639.6 C1278.7,642.2 1280.2,644.8 1281.7,647.5 C1283.2,650.2 1284.7,652.8 1286.2,655.5 C1287.7,658.1 1289.2,660.8 1290.6,663.5 C1292.1,666.2 1293.6,668.9 1295,671.5 C1296.5,674.2 1297.9,676.9 1299.3,679.6 C1300.8,682.3 1302.2,685 1303.6,687.7 C1305,690.4 1306.4,693.2 1307.8,695.9 C1309.2,698.6 1310.6,701.3 1312,704 C1313.3,706.8 1314.7,709.5 1316,712.2 C1317.4,715 1318.7,717.7 1320.1,720.5 C1321.4,723.2 1322.7,726 1324,728.7 C1325.3,731.5 1326.6,734.2 1327.9,737 C1329.2,739.8 1330.5,742.5 1331.8,745.3 C1333,748.1 1334.3,750.9 1335.6,753.6 C1336.8,756.4 1338.7,760.6 1339.3,762" fill="none" stroke="#111" stroke-width="3" stroke-dasharray="19.7 19.2" stroke-dashoffset="12.4"/>
<path d="M997.5,323.9 Q1012,325 1028.5,329.6 L1015.7,335.7 L1009,351.6 Q1002,337 997.5,323.9 Z" fill="#111"/>
<rect x="902.8" y="232.3" width="841.5" height="747.7" fill="none" stroke="#111" stroke-width="5.4"/>
<path d="M1055.6,980 v-11.5 M1208.9,980 v-11.5 M1362.2,980 v-11.5 M1515.4,980 v-11.5 M1668.5,980 v-11.5 M902.8,482.2 h11.5 M902.8,731.5 h11.5" stroke="#111" stroke-width="4.6" fill="none"/>
<g font-size="49.8" fill="#1a1a1a">
<text x="1058.5" y="1032" text-anchor="middle">−8</text>
<text x="1211" y="1032" text-anchor="middle">−6</text>
<text x="1371" y="1032" text-anchor="middle">−4</text>
<text x="1517.5" y="1032" text-anchor="middle">−2</text>
<text x="1668.3" y="1032" text-anchor="middle">0</text>
<text x="887.3" y="495.2" text-anchor="end">10</text>
<text x="884" y="992" text-anchor="end">0</text>
</g>
<text x="1263" y="1081.3" font-size="50" fill="#1a1a1a"><tspan font-style="italic">V</tspan><tspan font-size="31" dy="13.6">gs</tspan><tspan dy="-13.6"> (V)</tspan></text>
<text transform="translate(830.6,678) rotate(-90)" font-size="50" fill="#1a1a1a"><tspan font-style="italic">I</tspan><tspan font-size="31" dy="15.5">ph</tspan><tspan dy="-15.5"> (nA)</tspan></text>
<text x="1036.5" y="846" font-size="51" fill="#1a1a1a"><tspan font-style="italic">P</tspan><tspan font-size="29" dy="14">in</tspan><tspan dy="-14"> = 10 − 60 mW/cm</tspan><tspan font-size="29" dy="-20">2</tspan></text>
<text x="1064.5" y="912.5" font-size="51" fill="#1a1a1a">Step: 10 mW/cm<tspan font-size="29" dy="-20">2</tspan></text>
</g>
<g id="panel-b">
<text x="1754.5" y="74.8" font-size="104" text-anchor="start" fill="#1a1a1a">(b)</text>
<rect x="1943.1" y="38.8" width="1024.8" height="954.1" fill="#F5FAFE"/>
<rect x="1943.1" y="38.8" width="102.8" height="95.7" fill="#2C3968"/>
<rect x="2045.6" y="134.2" width="102.8" height="95.7" fill="#2D3E73"/>
<rect x="2865.4" y="134.2" width="102.8" height="95.7" fill="#EEF5FC"/>
<rect x="2045.6" y="229.6" width="102.8" height="95.7" fill="#EEF5FC"/>
<rect x="2148.1" y="229.6" width="102.8" height="95.7" fill="#2D437F"/>
<rect x="2660.5" y="229.6" width="102.8" height="95.7" fill="#EEF5FC"/>
<rect x="2250.5" y="325" width="102.8" height="95.7" fill="#2C3968"/>
<rect x="2353" y="420.4" width="102.8" height="95.7" fill="#2D3E73"/>
<rect x="2762.9" y="420.4" width="102.8" height="95.7" fill="#EEF5FC"/>
<rect x="2353" y="515.8" width="102.8" height="95.7" fill="#EEF5FC"/>
<rect x="2455.5" y="515.8" width="102.8" height="95.7" fill="#2E4786"/>
<rect x="2558" y="515.8" width="102.8" height="95.7" fill="#EEF5FC"/>
<rect x="2865.4" y="515.8" width="102.8" height="95.7" fill="#EEF5FC"/>
<rect x="2558" y="611.3" width="102.8" height="95.7" fill="#2D3E73"/>
<rect x="2762.9" y="611.3" width="102.8" height="95.7" fill="#EEF5FC"/>
<rect x="2660.5" y="706.7" width="102.8" height="95.7" fill="#2C3968"/>
<rect x="2045.6" y="802.1" width="102.8" height="95.7" fill="#EEF5FC"/>
<rect x="2148.1" y="802.1" width="102.8" height="95.7" fill="#EEF5FC"/>
<rect x="2250.5" y="802.1" width="102.8" height="95.7" fill="#EEF5FC"/>
<rect x="2762.9" y="802.1" width="102.8" height="95.7" fill="#2E4A8E"/>
<rect x="2865.4" y="802.1" width="102.8" height="95.7" fill="#EEF5FC"/>
<rect x="2250.5" y="897.5" width="102.8" height="95.7" fill="#EEF5FC"/>
<rect x="2660.5" y="897.5" width="102.8" height="95.7" fill="#EEF5FC"/>
<rect x="2762.9" y="897.5" width="102.8" height="95.7" fill="#EEF5FC"/>
<rect x="2865.4" y="897.5" width="102.8" height="95.7" fill="#2E4786"/>
<path d="M1937,86.5 H1948 M1937,181.9 H1948 M1937,277.3 H1948 M1937,372.7 H1948 M1937,468.1 H1948 M1937,563.6 H1948 M1937,659 H1948 M1937,754.4 H1948 M1937,849.8 H1948 M1937,945.2 H1948 M1994.3,987.5 V999 M2096.8,987.5 V999 M2199.3,987.5 V999 M2301.8,987.5 V999 M2404.3,987.5 V999 M2506.7,987.5 V999 M2609.2,987.5 V999 M2711.7,987.5 V999 M2814.2,987.5 V999 M2916.7,987.5 V999" stroke="#1a1a1a" stroke-width="3.4" fill="none"/>
<g font-size="46" text-anchor="middle">
<text x="1994.3" y="98.1" fill="#FFFFFF">1.00</text>
<text x="2096.8" y="98.1" fill="#262626">0.00</text>
<text x="2199.3" y="98.1" fill="#262626">0.00</text>
<text x="2301.8" y="98.1" fill="#262626">0.00</text>
<text x="2404.3" y="98.1" fill="#262626">0.00</text>
<text x="2506.7" y="98.1" fill="#262626">0.00</text>
<text x="2609.2" y="98.1" fill="#262626">0.00</text>
<text x="2711.7" y="98.1" fill="#262626">0.00</text>
<text x="2814.2" y="98.1" fill="#262626">0.00</text>
<text x="2916.7" y="98.1" fill="#262626">0.00</text>
<text x="1994.3" y="193.5" fill="#262626">0.00</text>
<text x="2096.8" y="193.5" fill="#FFFFFF">0.97</text>
<text x="2199.3" y="193.5" fill="#262626">0.00</text>
<text x="2301.8" y="193.5" fill="#262626">0.00</text>
<text x="2404.3" y="193.5" fill="#262626">0.00</text>
<text x="2506.7" y="193.5" fill="#262626">0.00</text>
<text x="2609.2" y="193.5" fill="#262626">0.00</text>
<text x="2711.7" y="193.5" fill="#262626">0.00</text>
<text x="2814.2" y="193.5" fill="#262626">0.00</text>
<text x="2916.7" y="193.5" fill="#262626">0.03</text>
<text x="1994.3" y="288.9" fill="#262626">0.00</text>
<text x="2096.8" y="288.9" fill="#262626">0.03</text>
<text x="2199.3" y="288.9" fill="#FFFFFF">0.94</text>
<text x="2301.8" y="288.9" fill="#262626">0.00</text>
<text x="2404.3" y="288.9" fill="#262626">0.00</text>
<text x="2506.7" y="288.9" fill="#262626">0.00</text>
<text x="2609.2" y="288.9" fill="#262626">0.00</text>
<text x="2711.7" y="288.9" fill="#262626">0.03</text>
<text x="2814.2" y="288.9" fill="#262626">0.00</text>
<text x="2916.7" y="288.9" fill="#262626">0.00</text>
<text x="1994.3" y="384.3" fill="#262626">0.00</text>
<text x="2096.8" y="384.3" fill="#262626">0.00</text>
<text x="2199.3" y="384.3" fill="#262626">0.00</text>
<text x="2301.8" y="384.3" fill="#FFFFFF">1.00</text>
<text x="2404.3" y="384.3" fill="#262626">0.00</text>
<text x="2506.7" y="384.3" fill="#262626">0.00</text>
<text x="2609.2" y="384.3" fill="#262626">0.00</text>
<text x="2711.7" y="384.3" fill="#262626">0.00</text>
<text x="2814.2" y="384.3" fill="#262626">0.00</text>
<text x="2916.7" y="384.3" fill="#262626">0.00</text>
<text x="1994.3" y="479.7" fill="#262626">0.00</text>
<text x="2096.8" y="479.7" fill="#262626">0.00</text>
<text x="2199.3" y="479.7" fill="#262626">0.00</text>
<text x="2301.8" y="479.7" fill="#262626">0.00</text>
<text x="2404.3" y="479.7" fill="#FFFFFF">0.97</text>
<text x="2506.7" y="479.7" fill="#262626">0.00</text>
<text x="2609.2" y="479.7" fill="#262626">0.00</text>
<text x="2711.7" y="479.7" fill="#262626">0.00</text>
<text x="2814.2" y="479.7" fill="#262626">0.03</text>
<text x="2916.7" y="479.7" fill="#262626">0.00</text>
<text x="1994.3" y="575.2" fill="#262626">0.00</text>
<text x="2096.8" y="575.2" fill="#262626">0.00</text>
<text x="2199.3" y="575.2" fill="#262626">0.00</text>
<text x="2301.8" y="575.2" fill="#262626">0.00</text>
<text x="2404.3" y="575.2" fill="#262626">0.03</text>
<text x="2506.7" y="575.2" fill="#FFFFFF">0.92</text>
<text x="2609.2" y="575.2" fill="#262626">0.03</text>
<text x="2711.7" y="575.2" fill="#262626">0.00</text>
<text x="2814.2" y="575.2" fill="#262626">0.00</text>
<text x="2916.7" y="575.2" fill="#262626">0.03</text>
<text x="1994.3" y="670.6" fill="#262626">0.00</text>
<text x="2096.8" y="670.6" fill="#262626">0.00</text>
<text x="2199.3" y="670.6" fill="#262626">0.00</text>
<text x="2301.8" y="670.6" fill="#262626">0.00</text>
<text x="2404.3" y="670.6" fill="#262626">0.00</text>
<text x="2506.7" y="670.6" fill="#262626">0.00</text>
<text x="2609.2" y="670.6" fill="#FFFFFF">0.97</text>
<text x="2711.7" y="670.6" fill="#262626">0.00</text>
<text x="2814.2" y="670.6" fill="#262626">0.03</text>
<text x="2916.7" y="670.6" fill="#262626">0.00</text>
<text x="1994.3" y="766" fill="#262626">0.00</text>
<text x="2096.8" y="766" fill="#262626">0.00</text>
<text x="2199.3" y="766" fill="#262626">0.00</text>
<text x="2301.8" y="766" fill="#262626">0.00</text>
<text x="2404.3" y="766" fill="#262626">0.00</text>
<text x="2506.7" y="766" fill="#262626">0.00</text>
<text x="2609.2" y="766" fill="#262626">0.00</text>
<text x="2711.7" y="766" fill="#FFFFFF">1.00</text>
<text x="2814.2" y="766" fill="#262626">0.00</text>
<text x="2916.7" y="766" fill="#262626">0.00</text>
<text x="1994.3" y="861.4" fill="#262626">0.00</text>
<text x="2096.8" y="861.4" fill="#262626">0.03</text>
<text x="2199.3" y="861.4" fill="#262626">0.03</text>
<text x="2301.8" y="861.4" fill="#262626">0.03</text>
<text x="2404.3" y="861.4" fill="#262626">0.00</text>
<text x="2506.7" y="861.4" fill="#262626">0.00</text>
<text x="2609.2" y="861.4" fill="#262626">0.00</text>
<text x="2711.7" y="861.4" fill="#262626">0.00</text>
<text x="2814.2" y="861.4" fill="#FFFFFF">0.90</text>
<text x="2916.7" y="861.4" fill="#262626">0.03</text>
<text x="1994.3" y="956.8" fill="#262626">0.00</text>
<text x="2096.8" y="956.8" fill="#262626">0.00</text>
<text x="2199.3" y="956.8" fill="#262626">0.00</text>
<text x="2301.8" y="956.8" fill="#262626">0.03</text>
<text x="2404.3" y="956.8" fill="#262626">0.00</text>
<text x="2506.7" y="956.8" fill="#262626">0.00</text>
<text x="2609.2" y="956.8" fill="#262626">0.00</text>
<text x="2711.7" y="956.8" fill="#262626">0.03</text>
<text x="2814.2" y="956.8" fill="#262626">0.03</text>
<text x="2916.7" y="956.8" fill="#FFFFFF">0.92</text>
</g>
<g font-size="50" fill="#1a1a1a">
<text x="1917.5" y="106.5" text-anchor="end">0</text>
<text x="1917.5" y="201.9" text-anchor="end">1</text>
<text x="1917.5" y="297.3" text-anchor="end">2</text>
<text x="1917.5" y="392.7" text-anchor="end">3</text>
<text x="1917.5" y="488.1" text-anchor="end">4</text>
<text x="1917.5" y="583.6" text-anchor="end">5</text>
<text x="1917.5" y="679" text-anchor="end">6</text>
<text x="1917.5" y="774.4" text-anchor="end">7</text>
<text x="1917.5" y="869.8" text-anchor="end">8</text>
<text x="1917.5" y="965.2" text-anchor="end">9</text>
<text x="1994.3" y="1050.2" text-anchor="middle">0</text>
<text x="2096.8" y="1050.2" text-anchor="middle">1</text>
<text x="2199.3" y="1050.2" text-anchor="middle">2</text>
<text x="2301.8" y="1050.2" text-anchor="middle">3</text>
<text x="2404.3" y="1050.2" text-anchor="middle">4</text>
<text x="2506.7" y="1050.2" text-anchor="middle">5</text>
<text x="2609.2" y="1050.2" text-anchor="middle">6</text>
<text x="2711.7" y="1050.2" text-anchor="middle">7</text>
<text x="2814.2" y="1050.2" text-anchor="middle">8</text>
<text x="2916.7" y="1050.2" text-anchor="middle">9</text>
</g>
<text x="1859" y="540.4" font-size="51.5" text-anchor="middle" fill="#1a1a1a" transform="rotate(-90 1859 540.4)">True label</text>
<text x="2428" y="1099.5" font-size="51.5" text-anchor="middle" fill="#1a1a1a">Predict label</text>
<linearGradient id="cbg" x1="0" y1="1" x2="0" y2="0">
<stop offset="0%" stop-color="#F5FAFE"/>
<stop offset="10%" stop-color="#DEE9F6"/>
<stop offset="20%" stop-color="#C5D6EA"/>
<stop offset="30%" stop-color="#A5CAE0"/>
<stop offset="40%" stop-color="#89BCD4"/>
<stop offset="50%" stop-color="#6AA6CB"/>
<stop offset="60%" stop-color="#528FC0"/>
<stop offset="70%" stop-color="#4075B4"/>
<stop offset="80%" stop-color="#345CA3"/>
<stop offset="90%" stop-color="#2E4A8E"/>
<stop offset="100%" stop-color="#2C3968"/>
</linearGradient>
<rect x="3023.2" y="44" width="47.8" height="947" fill="url(#cbg)"/>
<text x="3091.6" y="1006.2" font-size="42" text-anchor="start" fill="#1a1a1a">0.0</text>
<text x="3091.6" y="816.8" font-size="42" text-anchor="start" fill="#1a1a1a">0.2</text>
<text x="3091.6" y="627.4" font-size="42" text-anchor="start" fill="#1a1a1a">0.4</text>
<text x="3091.6" y="438" font-size="42" text-anchor="start" fill="#1a1a1a">0.6</text>
<text x="3091.6" y="248.6" font-size="42" text-anchor="start" fill="#1a1a1a">0.8</text>
<text x="3091.6" y="59.2" font-size="42" text-anchor="start" fill="#1a1a1a">1.0</text>
<path d="M3071,991 h11 M3071,801.6 h11 M3071,612.2 h11 M3071,422.8 h11 M3071,233.4 h11 M3071,44 h11" stroke="#1a1a1a" stroke-width="3" fill="none"/>
</g>
<g id="panel-c">
<text x="-5.4" y="1188" font-size="104" text-anchor="start" fill="#1a1a1a">(c)</text>
<path d="M175.5,1988.3 L1428.3,1207.3" stroke="#777A83" stroke-width="4.8" stroke-dasharray="24.8 9" fill="none"/>
<g fill="none" stroke-width="4" stroke-linejoin="miter">
<path d="M179.7,1391 L180.5,1365 L182.5,1345 L186.4,1330 L187.3,1319.5 L190.9,1315 L191.8,1306.1 L198,1298.9 L204.3,1291.8 L207,1283.8 L211.4,1275.7 L218.6,1269.5 L223.9,1264.1 L227.5,1258.8 L238.2,1256.1 L245.4,1252.5 L258.8,1248.5 L272.1,1244.5 L277.5,1241.8 L290,1239.6 L303.4,1237.3 L316.8,1235.1 L330.2,1232.9 L343.6,1231.5 L365,1229.7 L386.6,1227.2 L400,1226 L450,1222 L520,1219 L611,1217 L701,1215.4 L852,1213.6 L1002,1211.8 L1093,1210.8 L1250,1209.5 L1428.3,1207.5" stroke="#345CA5"/>
<path d="M179.6,1372 L180.4,1345 L181.5,1319.5 L184.2,1301.6 L189.1,1292.7 L195.4,1283.8 L202.5,1274.8 L209.6,1266.8 L215,1257.9 L222.1,1252.5 L229.3,1245.4 L240,1240.9 L254.3,1237.3 L272.1,1235.1 L290,1232 L307.9,1230.2 L325.7,1228.4 L343.6,1227.1 L365,1225.3 L386.6,1223.2 L400,1221.5 L450,1218.5 L520,1216.2 L611,1214.8 L701,1213.6 L852,1212.2 L1002,1211 L1093,1210.2 L1250,1209 L1428.3,1207.4" stroke="#3F6FB0"/>
<path d="M179.5,1367 L180,1335 L180.6,1310.5 L182.9,1292.7 L188.2,1282.9 L194.5,1278.4 L200.7,1270.4 L207,1264.1 L211.4,1254.3 L218.6,1251.6 L223.9,1243.6 L232.9,1240 L243.6,1235.5 L263.2,1232.9 L281.1,1230.6 L298.9,1228.4 L316.8,1226.6 L334.6,1225.3 L350.7,1223 L365,1221.7 L386.6,1219.6 L400,1218.5 L450,1216.5 L520,1214.5 L611,1213.5 L701,1212.6 L852,1211.4 L1002,1210.5 L1093,1209.8 L1250,1208.8 L1428.3,1207.4" stroke="#5081BD"/>
<path d="M179.4,1350 L179.8,1320 L180.2,1297.1 L181.5,1286.4 L184.2,1282.9 L186.4,1273.9 L188.4,1263.2 L190,1257 L197.1,1255.2 L199.4,1248 L202.5,1241.8 L206.1,1236.4 L211.4,1232.9 L214.1,1227.5 L218.6,1226.2 L236.4,1224.4 L254.3,1222.1 L272.1,1220.8 L290,1219.9 L301.6,1219 L304.3,1215.9 L316.8,1214.6 L334.6,1213.2 L352.5,1211.9 L365,1211 L400,1211.5 L520,1210.8 L701,1210 L852,1209.4 L1093,1208.6 L1428.3,1207.3" stroke="#6AA6CE"/>
<path d="M179.3,1273.9 L179.7,1252.5 L180,1236.4 L182.9,1232.9 L186.4,1228.4 L191.8,1225.7 L194.5,1223 L194.9,1217.7 L200.7,1215.9 L211.4,1213.9 L227.5,1213 L254.3,1212.7 L281.1,1212.3 L303.4,1211.8 L318.6,1211 L322.1,1208.8 L334.6,1207.9 L352.5,1207.4 L1428.3,1207.3" stroke="#F0694A"/>
</g>
<rect x="175.5" y="1168.3" width="1252.8" height="820" fill="none" stroke="#111" stroke-width="5.2"/>
<path d="M175.5,1988.3 v8.8 M175.5,1988.3 h-10.5 M426.1,1988.3 v8.8 M175.5,1832.1 h-10.5 M676.6,1988.3 v8.8 M175.5,1675.9 h-10.5 M927.2,1988.3 v8.8 M175.5,1519.7 h-10.5 M1177.7,1988.3 v8.8 M175.5,1363.5 h-10.5 M1428.3,1988.3 v8.8 M175.5,1207.3 h-10.5" stroke="#111" stroke-width="4.8" fill="none"/>
<g font-size="50" fill="#1a1a1a">
<text x="173" y="2057" text-anchor="middle">0.0</text>
<text x="154.5" y="2005.3" text-anchor="end">0.0</text>
<text x="423.6" y="2057" text-anchor="middle">0.2</text>
<text x="154.5" y="1849.1" text-anchor="end">0.2</text>
<text x="674.1" y="2057" text-anchor="middle">0.4</text>
<text x="154.5" y="1692.9" text-anchor="end">0.4</text>
<text x="924.7" y="2057" text-anchor="middle">0.6</text>
<text x="154.5" y="1536.7" text-anchor="end">0.6</text>
<text x="1175.2" y="2057" text-anchor="middle">0.8</text>
<text x="154.5" y="1380.5" text-anchor="end">0.8</text>
<text x="1427.3" y="2057" text-anchor="middle">1</text>
<text x="153" y="1221.8" text-anchor="end">1</text>
</g>
<text x="742" y="2116" font-size="51.5" text-anchor="middle" fill="#1a1a1a">1-Specificity (%)</text>
<text x="58.9" y="1614.9" font-size="51.4" text-anchor="middle" fill="#1a1a1a" transform="rotate(-90 58.9 1614.9)">Specificity (%)</text>
<g font-size="45" fill="#1a1a1a">
<path d="M228,1406.7 H301" stroke="#345CA5" stroke-width="3.4"/>
<text x="346.6" y="1415.8">linear-KF (AUC = 0.9856)</text>
<path d="M228,1486.5 H301" stroke="#3F6FB0" stroke-width="3.4"/>
<text x="345.9" y="1495.6">G-KF (AUC = 0.9902)</text>
<path d="M717.6,1742.6 H790.5" stroke="#5081BD" stroke-width="3.4"/>
<text x="832.4" y="1758.8">poly-KF (AUC = 0.9904)</text>
<path d="M717.6,1823.2 H790.5" stroke="#6AA6CE" stroke-width="3.4"/>
<text x="831.6" y="1838.9">S-KF (AUC = 0.9955)</text>
<path d="M717.6,1903.2 H790.5" stroke="#F0694A" stroke-width="3.4"/>
<text x="833.1" y="1919">G-KF + S-KF (AUC = 0.9986)</text>
</g>
</g>
<g id="panel-d">
<text x="1490" y="1188.3" font-size="104" text-anchor="start" fill="#1a1a1a">(d)</text>
<rect x="1715.5" y="1590.6" width="42.4" height="395.2" fill="#345CA3"/>
<rect x="1757.5" y="1463.3" width="42.4" height="522.5" fill="#4070AF"/>
<rect x="1799.6" y="1429.7" width="42.4" height="556.1" fill="#5282BB"/>
<rect x="1841.6" y="1426.8" width="42.4" height="559" fill="#6AA5CC"/>
<rect x="1883.7" y="1336.4" width="42.4" height="649.4" fill="#F06A4B"/>
<rect x="1995.3" y="1848.3" width="42.4" height="137.5" fill="#345CA3"/>
<rect x="2037.3" y="1523.5" width="42.4" height="462.3" fill="#4070AF"/>
<rect x="2079.4" y="1436.5" width="42.4" height="549.3" fill="#5282BB"/>
<rect x="2121.4" y="1442.2" width="42.4" height="543.6" fill="#6AA5CC"/>
<rect x="2163.5" y="1336.9" width="42.4" height="648.9" fill="#F06A4B"/>
<rect x="2275.1" y="1848.3" width="42.4" height="137.5" fill="#345CA3"/>
<rect x="2317.1" y="1523.5" width="42.4" height="462.3" fill="#4070AF"/>
<rect x="2359.2" y="1436.5" width="42.4" height="549.3" fill="#5282BB"/>
<rect x="2401.2" y="1442.2" width="42.4" height="543.6" fill="#6AA5CC"/>
<rect x="2443.3" y="1336.9" width="42.4" height="648.9" fill="#F06A4B"/>
<rect x="2554.9" y="1921.4" width="42.4" height="64.4" fill="#345CA3"/>
<rect x="2596.9" y="1521.5" width="42.4" height="464.3" fill="#4070AF"/>
<rect x="2639" y="1436.5" width="42.4" height="549.3" fill="#5282BB"/>
<rect x="2681" y="1441.2" width="42.4" height="544.6" fill="#6AA5CC"/>
<rect x="2723.1" y="1337.3" width="42.4" height="648.5" fill="#F06A4B"/>
<rect x="2834.7" y="1285.6" width="42.4" height="700.2" fill="#345CA3"/>
<rect x="2876.7" y="1276.3" width="42.4" height="709.5" fill="#4070AF"/>
<rect x="2918.8" y="1275.7" width="42.4" height="710.1" fill="#5282BB"/>
<rect x="2960.8" y="1264.5" width="42.4" height="721.3" fill="#6AA5CC"/>
<rect x="3002.9" y="1258.6" width="42.4" height="727.2" fill="#F06A4B"/>
<rect x="1649.8" y="1159.8" width="1460.9" height="826" fill="none" stroke="#111" stroke-width="5.2"/>
<path d="M1820.6,1985.8 v8.8 M2100.4,1985.8 v8.8 M2380.2,1985.8 v8.8 M2660,1985.8 v8.8 M2939.8,1985.8 v8.8 M1649.8,1848.3 h-9.7 M1649.8,1650.9 h-9.7 M1649.8,1453.4 h-9.7 M1649.8,1256 h-9.7" stroke="#111" stroke-width="4.8" fill="none"/>
<g font-size="50" fill="#1a1a1a" text-anchor="end">
<text x="1627.5" y="1862.8">70</text>
<text x="1627.5" y="1665.4">80</text>
<text x="1627.5" y="1467.9">90</text>
<text x="1627.5" y="1270.5">100</text>
</g>
<g font-size="51" fill="#1a1a1a" text-anchor="middle">
<text x="1816.3" y="2046.5">Precision</text>
<text x="2099.3" y="2046.5">Accuracy</text>
<text x="2372.9" y="2046.5">Recall</text>
<text x="2662" y="2046.5">F1</text>
<text x="2941.4" y="2046.5">AUC</text>
</g>
<text x="2373.5" y="2109" font-size="51.3" text-anchor="middle" fill="#1a1a1a">Evaluation Metric</text>
<text x="1533.2" y="1556.5" font-size="51.6" text-anchor="middle" fill="#1a1a1a" transform="rotate(-90 1533.2 1556.5)">Prediction rate (%)</text>
<g font-size="45" fill="#1a1a1a">
<rect x="1724.5" y="1202.6" width="77.8" height="24.4" fill="#345CA3"/>
<text x="1809.2" y="1225.8">linear-KF</text>
<rect x="2023" y="1202.6" width="77.8" height="24.4" fill="#4070AF"/>
<text x="2109" y="1225.8">G-KF</text>
<rect x="2244.8" y="1202.6" width="77.8" height="24.4" fill="#5282BB"/>
<text x="2339.5" y="1225.8">poly-KF</text>
<rect x="2530" y="1202.6" width="77.8" height="24.4" fill="#6AA5CC"/>
<text x="2622.5" y="1225.8">S-KF</text>
<rect x="2757.4" y="1202.6" width="77.8" height="24.4" fill="#F06A4B"/>
<text x="2841.5" y="1225.8">G-KF + S-KF</text>
</g>
</g>
</svg>
</body>
</html>
